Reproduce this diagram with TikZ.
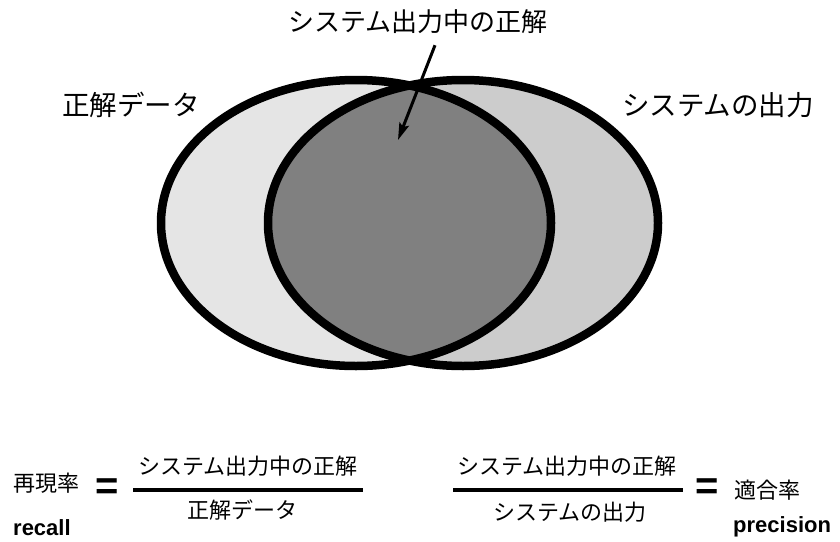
\documentclass[tikz,border=0pt]{standalone}
\usepackage{fontspec}
\setmainfont{Liberation Sans}
\newfontfamily\jpfont{Noto Sans CJK JP}
\usetikzlibrary{arrows.meta}

\tikzset{
  setline/.style={line width=8.5pt},
  biglabel/.style={font=\jpfont\fontsize{26}{30}\selectfont, inner sep=0pt},
  sidelabel/.style={font=\jpfont\fontsize{27.5}{30}\selectfont, inner sep=0pt},
  smalllabel/.style={font=\jpfont\fontsize{22}{26}\selectfont, inner sep=0pt},
  engword/.style={font=\bfseries\fontsize{22}{26}\selectfont, inner sep=0pt, anchor=base west},
  eqsign/.style={font=\bfseries\fontsize{40}{40}\selectfont, inner sep=0pt},
  fracbar/.style={line width=3.5pt},
}

\begin{document}
\begin{tikzpicture}[x=1pt,y=-1pt]
\useasboundingbox (0,0) rectangle (840,541);
% the two sets
\fill[gray!20] (356,223) ellipse [x radius=195pt, y radius=143pt];
\fill[gray!40] (463,223) ellipse [x radius=195pt, y radius=143pt];
\begin{scope}
  \clip (356,223) ellipse [x radius=195pt, y radius=143pt];
  \fill[gray] (463,223) ellipse [x radius=195pt, y radius=143pt];
\end{scope}
\draw[setline] (356,223) ellipse [x radius=195pt, y radius=143pt];
\draw[setline] (463,223) ellipse [x radius=195pt, y radius=143pt];

\node[biglabel] (title) at (418,22) {システム出力中の正解};
\node[sidelabel] (gold) at (131,105) {正解データ};
\node[sidelabel] (sysout) at (718,105) {システムの出力};
\coordinate (tip) at (398,140);
\draw[line width=3pt, -{Stealth[length=17pt,width=10pt,inset=3pt]}]
  ([xshift=17pt,yshift=-11pt]title.south) -- (tip);

% recall
\node[smalllabel] (recallname) at (46,483) {再現率};
\node[eqsign] (eqleft) at (107.5,489.5) {=};
\draw[fracbar] (133,490) -- (363,490);
\node[smalllabel] (num1) at (248,466) {システム出力中の正解};
\node[smalllabel] (den1) at (242,510) {正解データ};
\node[engword] (recall) at (13,535) {recall};

% precision
\draw[fracbar] (453,490) -- (683,490);
\node[smalllabel] (num2) at (567,466) {システム出力中の正解};
\node[smalllabel] (den2) at (570,512) {システムの出力};
\node[eqsign] (eqright) at (707.5,489.5) {=};
\node[smalllabel] (precname) at (767,490) {適合率};
\node[engword] (precision) at (733,532) {precision};
\end{tikzpicture}
\end{document}
